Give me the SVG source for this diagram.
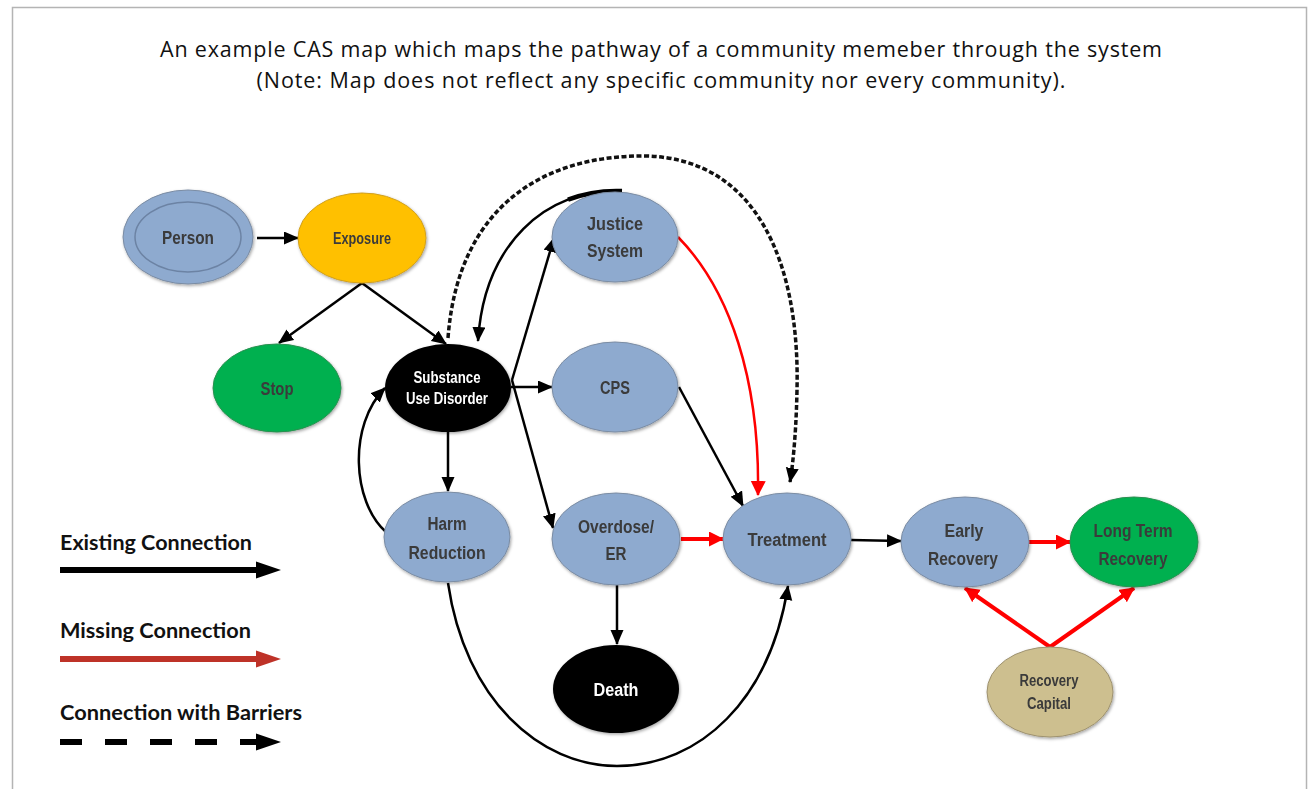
<svg xmlns="http://www.w3.org/2000/svg" width="1309" height="789" viewBox="0 0 1309 789">
<style>
.title{font-family:"Open Sans","Liberation Sans",sans-serif;font-size:21.5px;fill:#111;}
.leg{font-family:Lato,"Open Sans","Liberation Sans",sans-serif;font-size:20px;font-weight:bold;fill:#111;}
.lbl{font-family:"Liberation Sans",Arial,sans-serif;font-weight:bold;font-size:18px;fill:#3a3a3a;text-anchor:middle;}
.sm{font-size:16px;}
.lblw{fill:#ffffff;}
.blue{fill:#8eaacf;stroke:#7b8ca3;stroke-width:1;}
.edge{fill:none;stroke:#000;stroke-width:2.5;}
.red{fill:none;stroke:#ff0000;stroke-width:2.5;}
.redt{fill:none;stroke:#ff0000;stroke-width:4;}
.dash{fill:none;stroke:#111;stroke-width:3.5;stroke-dasharray:5 2.5;}
</style>
<defs>
<filter id="sh" x="-20%" y="-20%" width="140%" height="140%">
<feDropShadow dx="1" dy="1.5" stdDeviation="1.5" flood-color="#000" flood-opacity="0.35"/>
</filter>
<marker id="ab" markerUnits="userSpaceOnUse" markerWidth="16" markerHeight="14" refX="14" refY="6.5" orient="auto">
<path d="M0,0 L15,6.5 L0,13 z" fill="#000"/>
</marker>
<marker id="ar" markerUnits="userSpaceOnUse" markerWidth="16" markerHeight="16" refX="14" refY="7.5" orient="auto">
<path d="M0,0 L15,7.5 L0,15 z" fill="#ff0000"/>
</marker>
</defs>
<rect x="12.5" y="7.5" width="1294" height="800" fill="#fff" stroke="#b4b4b4" stroke-width="1.5"/>
<text class="title" x="661" y="57" text-anchor="middle" textLength="1002" lengthAdjust="spacing">An example CAS map which maps the pathway of a community memeber through the system</text>
<text class="title" x="661" y="88" text-anchor="middle" textLength="809" lengthAdjust="spacing">(Note: Map does not reflect any specific community nor every community).</text>

<g id="connectors">
<path class="dash" d="M448,338 C458,205 545,155 645,156 C758,158 800,265 797,390 C796,440 792,470 790,482" marker-end="url(#ab)"/>
<line class="edge" x1="257" y1="238" x2="298" y2="238" marker-end="url(#ab)"/>
<line class="edge" x1="362" y1="283" x2="279" y2="343" marker-end="url(#ab)"/>
<line class="edge" x1="362" y1="283" x2="446" y2="344" marker-end="url(#ab)"/>
<path class="edge" d="M622,191 C545,188 484,245 478,341" marker-end="url(#ab)"/>
<path fill="none" stroke="#000" stroke-width="4.5" stroke-dasharray="55 1000" d="M622,191 C545,188 484,245 478,341"/>
<line class="edge" x1="512" y1="380" x2="554" y2="238" marker-end="url(#ab)"/>
<line class="edge" x1="511" y1="387" x2="552" y2="387" marker-end="url(#ab)"/>
<line class="edge" x1="512" y1="380" x2="553" y2="528" marker-end="url(#ab)"/>
<line class="edge" x1="448" y1="432" x2="448" y2="491" marker-end="url(#ab)"/>
<path class="edge" d="M386,532 C352,502 348,425 385,388" marker-end="url(#ab)"/>
<line class="edge" x1="679" y1="387" x2="743" y2="506" marker-end="url(#ab)"/>
<path class="red" d="M678,237 C730,290 760,380 758,495" marker-end="url(#ar)"/>
<line class="redt" x1="681" y1="539" x2="723" y2="539" marker-end="url(#ar)"/>
<line class="edge" x1="617" y1="585" x2="617" y2="644" marker-end="url(#ab)"/>
<path class="edge" d="M448,583 C465,700 540,766 617,766 C700,766 770,700 788,586" marker-end="url(#ab)"/>
<line class="edge" x1="851" y1="540" x2="901" y2="541" marker-end="url(#ab)"/>
<line class="redt" x1="1028" y1="542" x2="1070" y2="542" marker-end="url(#ar)"/>
<line class="redt" x1="1050" y1="647" x2="965" y2="588" marker-end="url(#ar)"/>
<line class="redt" x1="1050" y1="647" x2="1134" y2="588" marker-end="url(#ar)"/>
</g>

<g id="person" filter="url(#sh)">
<ellipse class="blue" cx="188" cy="237" rx="65" ry="47"/>
<ellipse cx="188" cy="237" rx="53" ry="35" fill="none" stroke="#6c83a4" stroke-width="1.5"/>
<text class="lbl" x="188" y="244" textLength="52" lengthAdjust="spacingAndGlyphs">Person</text>
</g>
<g id="exposure" filter="url(#sh)">
<ellipse cx="362" cy="238" rx="64" ry="45" fill="#ffc000" stroke="#d0a020" stroke-width="1"/>
<text class="lbl sm" x="362" y="244" textLength="58" lengthAdjust="spacingAndGlyphs">Exposure</text>
</g>
<g id="stop" filter="url(#sh)">
<ellipse cx="277" cy="388" rx="64" ry="44" fill="#00b050" stroke="#2a9050" stroke-width="1"/>
<text class="lbl" x="277" y="395" textLength="33" lengthAdjust="spacingAndGlyphs">Stop</text>
</g>
<g id="sud" filter="url(#sh)">
<ellipse cx="448" cy="388" rx="63" ry="44" fill="#000"/>
<text class="lbl lblw sm" x="447" y="383" textLength="67" lengthAdjust="spacingAndGlyphs">Substance</text>
<text class="lbl lblw sm" x="447" y="404" textLength="82" lengthAdjust="spacingAndGlyphs">Use Disorder</text>
</g>
<g id="justice" filter="url(#sh)">
<ellipse class="blue" cx="615" cy="237" rx="63" ry="45"/>
<text class="lbl" x="615" y="230" textLength="56" lengthAdjust="spacingAndGlyphs">Justice</text>
<text class="lbl" x="615" y="257" textLength="56" lengthAdjust="spacingAndGlyphs">System</text>
</g>
<g id="cps" filter="url(#sh)">
<ellipse class="blue" cx="615" cy="387" rx="63" ry="45"/>
<text class="lbl" x="615" y="394" textLength="30" lengthAdjust="spacingAndGlyphs">CPS</text>
</g>
<g id="harm" filter="url(#sh)">
<ellipse class="blue" cx="447" cy="537" rx="63" ry="45"/>
<text class="lbl" x="447" y="530" textLength="39" lengthAdjust="spacingAndGlyphs">Harm</text>
<text class="lbl" x="447" y="559" textLength="77" lengthAdjust="spacingAndGlyphs">Reduction</text>
</g>
<g id="overdose" filter="url(#sh)">
<ellipse class="blue" cx="616" cy="539" rx="64" ry="46"/>
<text class="lbl" x="616" y="533" textLength="76" lengthAdjust="spacingAndGlyphs">Overdose/</text>
<text class="lbl" x="616" y="560" textLength="21" lengthAdjust="spacingAndGlyphs">ER</text>
</g>
<g id="treatment" filter="url(#sh)">
<ellipse class="blue" cx="787" cy="539" rx="64" ry="46"/>
<text class="lbl" x="787" y="546" textLength="79" lengthAdjust="spacingAndGlyphs">Treatment</text>
</g>
<g id="death" filter="url(#sh)">
<ellipse cx="616" cy="689" rx="63" ry="44" fill="#000"/>
<text class="lbl lblw" x="616" y="696" textLength="45" lengthAdjust="spacingAndGlyphs">Death</text>
</g>
<g id="early" filter="url(#sh)">
<ellipse class="blue" cx="965" cy="542" rx="64" ry="45"/>
<text class="lbl" x="964" y="537" textLength="39" lengthAdjust="spacingAndGlyphs">Early</text>
<text class="lbl" x="963" y="565" textLength="70" lengthAdjust="spacingAndGlyphs">Recovery</text>
</g>
<g id="longterm" filter="url(#sh)">
<ellipse cx="1134" cy="542" rx="64" ry="45" fill="#00b050" stroke="#2a9050" stroke-width="1"/>
<text class="lbl" x="1133" y="537" textLength="79" lengthAdjust="spacingAndGlyphs">Long Term</text>
<text class="lbl" x="1133" y="565" textLength="69" lengthAdjust="spacingAndGlyphs">Recovery</text>
</g>
<g id="capital" filter="url(#sh)">
<ellipse cx="1050" cy="692" rx="63" ry="45" fill="#cdbf8f" stroke="#9e9270" stroke-width="1"/>
<text class="lbl sm" x="1049" y="686" textLength="59" lengthAdjust="spacingAndGlyphs">Recovery</text>
<text class="lbl sm" x="1049" y="709" textLength="44" lengthAdjust="spacingAndGlyphs">Capital</text>
</g>

<g id="legend">
<text class="leg" x="60" y="550" textLength="192" lengthAdjust="spacingAndGlyphs">Existing Connection</text>
<line x1="60" y1="570" x2="257" y2="570" stroke="#000" stroke-width="6"/>
<polygon points="256,561.5 281,570 256,578.5" fill="#000"/>
<text class="leg" x="60" y="638" textLength="191" lengthAdjust="spacingAndGlyphs">Missing Connection</text>
<line x1="60" y1="659" x2="257" y2="659" stroke="#be3228" stroke-width="6"/>
<polygon points="256,650.5 281,659 256,667.5" fill="#be3228"/>
<text class="leg" x="60" y="720" textLength="242" lengthAdjust="spacingAndGlyphs">Connection with Barriers</text>
<line x1="60" y1="742" x2="257" y2="742" stroke="#000" stroke-width="6" stroke-dasharray="22 23"/>
<polygon points="256,733.5 281,742 256,750.5" fill="#000"/>
</g>
</svg>
